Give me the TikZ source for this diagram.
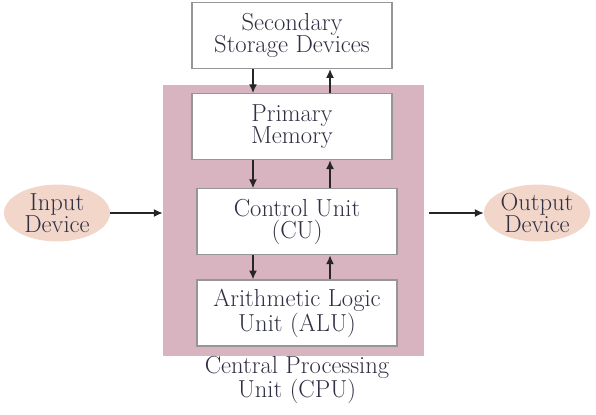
\documentclass[tikz,border=0pt]{standalone}
\usepackage{tikz}
\usetikzlibrary{arrows.meta,positioning,shapes.geometric}

\definecolor{cpupink}{RGB}{216,180,192}
\definecolor{devpeach}{RGB}{242,214,202}
\definecolor{inktext}{RGB}{48,48,68}
\definecolor{boxline}{RGB}{150,150,150}

\begin{document}
\begin{tikzpicture}[
  x=0.025cm, y=-0.025cm,
  every node/.style={text=inktext, font=\fontsize{17.5}{16}\selectfont},
  box/.style={draw=boxline, fill=white, line width=0.8pt, align=center,
              minimum width=5cm, minimum height=1.65cm},
  cpubox/.style={fill=cpupink, minimum width=6.525cm, minimum height=6.775cm},
  device/.style={ellipse, fill=devpeach, align=center, inner sep=0pt,
                 minimum width=2.65cm, minimum height=1.42cm},
  arr/.style={-{Latex[length=2.2mm,width=2mm]}, line width=1pt, draw=black!85},
  node distance=6mm]
\useasboundingbox (0,0) rectangle (596,414);
\node[cpubox] (cpu) at (293.5,220.5) {};
\node[box] (sec) at (292,35.5) {Secondary\\Storage Devices};
\node[box, below=of sec] (mem) {Primary\\Memory};
\node[box, below=7mm of mem, xshift=1.25mm] (cu) {Control Unit\\(CU)};
\node[box, below=of cu] (alu) {Arithmetic Logic\\Unit (ALU)};
\node[align=center] (cpulabel) at (297,380) {Central Processing\\Unit (CPU)};
\node[device] (in) at (57,213) {Input\\Device};
\node[device] (out) at (537,213) {Output\\Device};
% data paths
\draw[arr] ([xshift=-9.75mm]sec.south) -- ([xshift=-9.75mm]sec.south |- mem.north);
\draw[arr] ([xshift=9.5mm]mem.north) -- ([xshift=9.5mm]mem.north |- sec.south);
\draw[arr] ([xshift=-9.75mm]mem.south) -- ([xshift=-9.75mm]mem.south |- cu.north);
\draw[arr] ([xshift=9.5mm]mem.south |- cu.north) -- ([xshift=9.5mm]mem.south);
\draw[arr] ([xshift=-9.75mm]mem.south |- cu.south) -- ([xshift=-9.75mm]mem.south |- alu.north);
\draw[arr] ([xshift=9.5mm]mem.south |- alu.north) -- ([xshift=9.5mm]mem.south |- cu.south);
\draw[arr] (in.east) -- (in.east -| cpu.west);
\draw[arr, shorten <=1.2mm] (cpu.east |- out.west) -- (out.west);
\end{tikzpicture}
\end{document}
